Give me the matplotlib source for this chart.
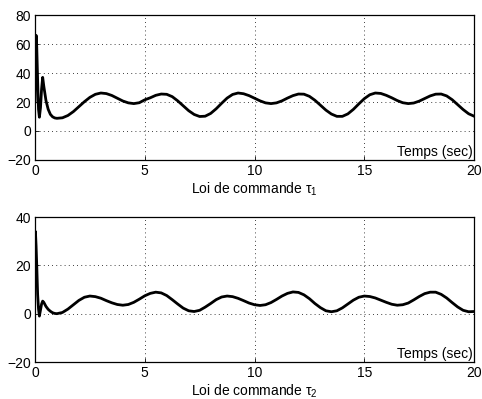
import matplotlib
matplotlib.use("Agg")
import matplotlib.pyplot as plt
import numpy as np

plt.rcParams["font.family"] = ["Liberation Sans", "DejaVu Sans"]
plt.rcParams["mathtext.fontset"] = "custom"
plt.rcParams["mathtext.rm"] = "Liberation Sans"
plt.rcParams["mathtext.it"] = "Liberation Sans"
plt.rcParams["font.size"] = 10

# Temps d'echantillonnage (transitoire puis pas de 0.25 s)
t_trans = [0.0, 0.02, 0.05, 0.08, 0.12, 0.16, 0.2, 0.25, 0.3, 0.35,
           0.4, 0.5, 0.6, 0.7, 0.8, 0.9]
t_reg = np.arange(1.0, 20.01, 0.25)

# Loi de commande tau_1
tau1_trans = [20, 50, 66, 58, 35, 15, 9.5, 16, 29, 37,
              31, 21, 15, 11.5, 9.8, 9.0]
tau1_reg = [8.75, 9.1, 10.7, 13.4, 16.8, 20.2, 23.2, 25.3,
            26.2, 25.8, 24.5, 22.6, 20.7, 19.4, 18.9, 19.5,
            21.5, 22.9, 24.6, 25.5, 25.3, 23.7, 20.8, 17.4,
            14.0, 11.4, 10.0, 10.2, 12.1, 15.3, 19.1, 22.7,
            25.2, 26.2, 25.7, 24.4, 22.6, 20.8, 19.4, 18.9,
            19.4, 20.8, 22.7, 24.4, 25.5, 25.4, 23.9, 21.2,
            17.8, 14.4, 11.7, 10.1, 10.1, 11.8, 14.9, 18.7,
            22.3, 25.0, 26.2, 25.9, 24.6, 22.9, 21.0, 19.5,
            18.9, 19.3, 20.6, 22.4, 24.2, 25.4, 25.5, 24.2,
            21.6, 18.2, 14.8, 11.9, 10.2]

# Loi de commande tau_2
tau2_trans = [20, 34, 28, 20, 8, 2, -1, 1.5, 4.0, 5.2,
              4.7, 3.0, 1.8, 1.0, 0.4, 0.1]
tau2_reg = [0.0, 0.5, 1.9, 3.7, 5.5, 6.8, 7.3, 7.05,
            6.4, 5.4, 4.5, 3.8, 3.5, 3.8, 4.7, 6.0,
            7.4, 8.4, 8.9, 8.6, 7.5, 5.8, 4.0, 2.3,
            1.2, 0.9, 1.4, 2.7, 4.2, 5.8, 6.9, 7.3,
            7.05, 6.35, 5.4, 4.4, 3.7, 3.4, 3.7, 4.6,
            5.9, 7.3, 8.4, 9.0, 8.8, 7.8, 6.2, 4.2,
            2.5, 1.2, 0.8, 1.2, 2.4, 4.0, 5.6, 6.8,
            7.3, 7.1, 6.5, 5.6, 4.7, 3.9, 3.5, 3.7,
            4.4, 5.7, 7.1, 8.3, 8.9, 8.9, 8.0, 6.5,
            4.6, 2.8, 1.4, 0.8, 0.9]

temps = np.concatenate([t_trans, t_reg])
tau1 = np.concatenate([tau1_trans, tau1_reg])
tau2 = np.concatenate([tau2_trans, tau2_reg])

xticks = [0, 5, 10, 15, 20]


def trace(ax, y, yticks, label):
    ax.plot(temps, y, color="black", linewidth=2.0)
    ax.set_xlim(0, 20)
    ax.set_ylim(yticks[0], yticks[-1])
    ax.set_xticks(xticks)
    ax.set_yticks(yticks)
    ax.grid(True, color="black", linestyle=(0, (1, 4)), linewidth=0.6)
    ax.tick_params(direction="in", length=3, width=0.6, labelsize=10, pad=3)
    for s in ax.spines.values():
        s.set_linewidth(0.9)
    ax.text(0.997, 0.01, "Temps (sec)", transform=ax.transAxes,
            ha="right", va="bottom", fontsize=10)
    ax.set_xlabel(label, fontsize=10, labelpad=2)


fig = plt.figure(figsize=(4.82, 3.99), dpi=100)
ax1 = fig.add_axes([0.0726, 0.599, 0.911, 0.3634])
ax2 = fig.add_axes([0.0726, 0.0927, 0.911, 0.3634])

trace(ax1, tau1, [-20, 0, 20, 40, 60, 80], r"Loi de commande $\tau_1$")
trace(ax2, tau2, [-20, 0, 20, 40], r"Loi de commande $\tau_2$")

fig.savefig("out.png", dpi=100)
